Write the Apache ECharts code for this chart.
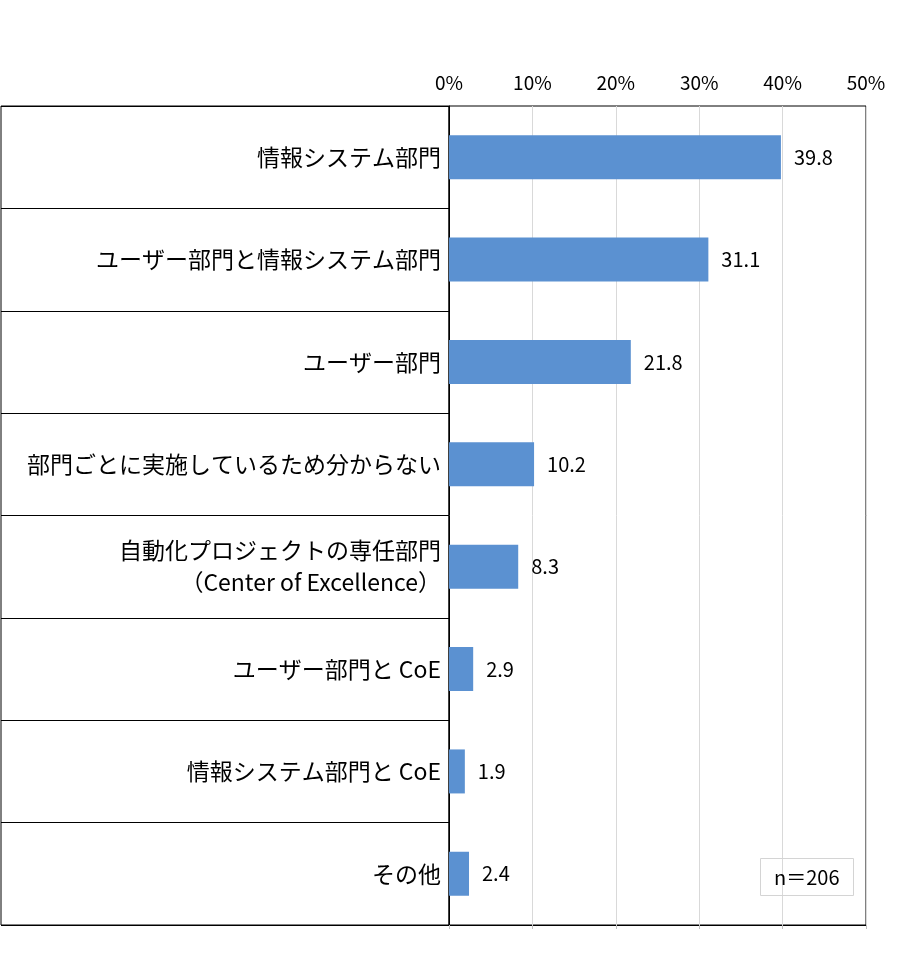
<!DOCTYPE html>
<html>
<head>
<meta charset="utf-8">
<script src="https://cdn.jsdelivr.net/npm/echarts@6/dist/echarts.min.js"></script>
<style>
html, body { margin: 0; padding: 0; background: #fff; }
#chart { width: 900px; height: 953px; }
</style>
</head>
<body>
<div id="chart"></div>
<script>
var categories = [
	'情報システム部門',
	'ユーザー部門と情報システム部門',
	'ユーザー部門',
	'部門ごとに実施しているため分からない',
	'自動化プロジェクトの専任部門\n（Center of Excellence）',
	'ユーザー部門と CoE',
	'情報システム部門と CoE',
	'その他'
];
var values = [39.8, 31.1, 21.8, 10.2, 8.3, 2.9, 1.9, 2.4];
var tickLabels = ['0%', '10%', '20%', '30%', '40%', '50%'];
var sampleNote = 'n＝206';

var font = '"Noto Sans CJK JP", "Noto Sans", sans-serif';
var chart = echarts.init(document.getElementById('chart'));

chart.setOption({
	backgroundColor: '#fff',
	animation: false,
	title: {
		text: sampleNote,
		left: 760,
		top: 858,
		padding: [9, 14, 9, 14],
		borderColor: '#d4d4d4',
		borderWidth: 1,
		textStyle: { fontFamily: font, fontSize: 20, fontWeight: 'normal', color: '#000' }
	},
	grid: [
		// 左側のラベル表
		{ left: 1, width: 448, top: 106, height: 819, show: true, borderColor: '#000', borderWidth: 1 },
		// グラフ本体
		{ left: 449, width: 417, top: 106, height: 819, show: true, borderColor: '#000', borderWidth: 1 }
	],
	xAxis: [
		{ gridIndex: 0, type: 'value', show: false, min: 0, max: 1 },
		{
			gridIndex: 1, type: 'value', position: 'top', min: 0, max: 50, interval: 10,
			axisLine: { show: false }, axisTick: { show: false },
			axisLabel: {
				margin: 14, fontFamily: font, fontSize: 19, color: '#000',
				formatter: function (v) { return tickLabels[v / 10]; }
			},
			splitLine: { show: true, lineStyle: { color: '#d9d9d9', width: 1 } }
		},
		{
			gridIndex: 1, type: 'value', position: 'bottom', min: 0, max: 50, interval: 10,
			axisLine: { show: true, lineStyle: { color: '#000' } },
			axisTick: { show: true, length: 4, lineStyle: { color: '#bfbfbf' } },
			axisLabel: { show: false }, splitLine: { show: false }
		}
	],
	yAxis: [
		{
			gridIndex: 0, type: 'category', inverse: true, data: categories,
			axisLine: { show: false }, axisTick: { show: false }, axisLabel: { show: false },
			splitLine: { show: true, interval: 0, lineStyle: { color: '#000', width: 1 } }
		},
		{
			gridIndex: 1, type: 'category', inverse: true, data: categories,
			axisLine: { show: true, lineStyle: { color: '#000' } },
			axisTick: { show: false },
			axisLabel: {
				interval: 0, margin: 8, fontFamily: font, fontSize: 23, color: '#000',
				lineHeight: 32, align: 'right'
			}
		}
	],
	series: [{
		type: 'bar',
		xAxisIndex: 1,
		yAxisIndex: 1,
		data: values,
		barWidth: 44,
		itemStyle: { color: '#5b91d1' },
		label: {
			show: true, position: 'right', distance: 13,
			fontFamily: font, fontSize: 20, color: '#000',
			formatter: function (p) { return p.value.toFixed(1); }
		}
	}]
});
</script>
</body>
</html>
